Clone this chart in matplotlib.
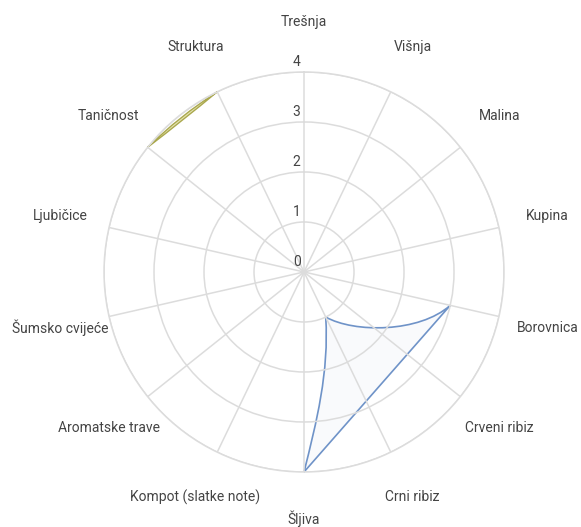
import numpy as np
import matplotlib.pyplot as plt
from matplotlib.path import Path
from matplotlib.patches import PathPatch

plt.rcParams['font.family'] = ['Roboto', 'DejaVu Sans']

categories = ["Trešnja", "Višnja", "Malina", "Kupina", "Borovnica", "Crveni ribiz",
              "Crni ribiz", "Šljiva", "Kompot (slatke note)", "Aromatske trave",
              "Šumsko cvijeće", "Ljubičice", "Taničnost", "Struktura"]
# None = no value given
fruit_scores = [None, None, None, None, 3, None, 1, 4, None, None, None, None, None, None]
structure_scores = [None, None, None, None, None, None, None, None, None, None, None, None, 4, 4]
r_ticks = [0, 1, 2, 3, 4]

n = len(categories)
angles = np.arange(n) * 2 * np.pi / n


def to_xy(i, v):
    # cartesian position in the polar projection (theta 0 at top, clockwise)
    a = angles[i]
    return np.array([v * np.sin(a), v * np.cos(a)])


fig = plt.figure(figsize=(5.81, 5.27), dpi=100)
ax = fig.add_axes([0.179, 0.1044, 0.6885, 0.759], projection='polar')
ax.set_theta_zero_location('N')
ax.set_theta_direction(-1)
ax.set_ylim(0, 4)
ax.set_xticks(angles)
ax.set_xticklabels([])
ax.set_yticks(r_ticks)
ax.set_yticklabels([])
ax.grid(True, color='#dcdcdc', linewidth=1.1)
ax.spines['polar'].set_color('#dcdcdc')
ax.spines['polar'].set_linewidth(1.1)

for a, name in zip(angles, categories):
    r = 4.93 if name == "Šljiva" else 5.0
    ax.text(a, r, name, ha='center', va='center', fontsize=10, color='#444444', clip_on=False)

for t in r_ticks:
    ax.annotate(str(t), xy=(0, t), xytext=(-2.5, 2), textcoords='offset points',
                ha='right', va='bottom', fontsize=10, color='#444444')

# cartesian part of the polar transform, so Bezier curves stay curves
cart = ax.transProjectionAffine + ax.transWedge + ax.transAxes

# fruit series: Borovnica -> Crni ribiz -> Šljiva (smooth), closing straight back
pts = [(i, v) for i, v in enumerate(fruit_scores) if v is not None]
B = to_xy(*pts[0])
C = to_xy(*pts[1])
S = to_xy(*pts[2])
verts = [B, B + (-0.62, -0.55), C + (0.57, -0.32), C,
         C + (0.07, -1.1), S + (0.25, 1.0), S, B, B]
codes = [Path.MOVETO, Path.CURVE4, Path.CURVE4, Path.CURVE4,
         Path.CURVE4, Path.CURVE4, Path.CURVE4, Path.LINETO, Path.CLOSEPOLY]
ax.add_patch(PathPatch(Path(verts, codes), transform=cart, facecolor='#6f93c8',
                       alpha=0.04, edgecolor='none', clip_on=False))
ax.add_patch(PathPatch(Path(verts, codes), transform=cart, facecolor='none',
                       edgecolor='#6f93c8', linewidth=1.2, clip_on=False))

# structure series: Taničnost -> Struktura, thin lens
pts = [(i, v) for i, v in enumerate(structure_scores) if v is not None]
T = to_xy(*pts[0])
K = to_xy(*pts[1])
mid = (T + K) / 2
nrm = mid / np.linalg.norm(mid)
verts = [T, mid + nrm * 0.09, K, mid - nrm * 0.02, T, T]
codes = [Path.MOVETO, Path.CURVE3, Path.CURVE3, Path.CURVE3, Path.CURVE3, Path.CLOSEPOLY]
ax.add_patch(PathPatch(Path(verts, codes), transform=cart, facecolor='#e6e5b4',
                       edgecolor='#aaa84e', linewidth=1.0, clip_on=False))

fig.savefig('out.png', dpi=100)
